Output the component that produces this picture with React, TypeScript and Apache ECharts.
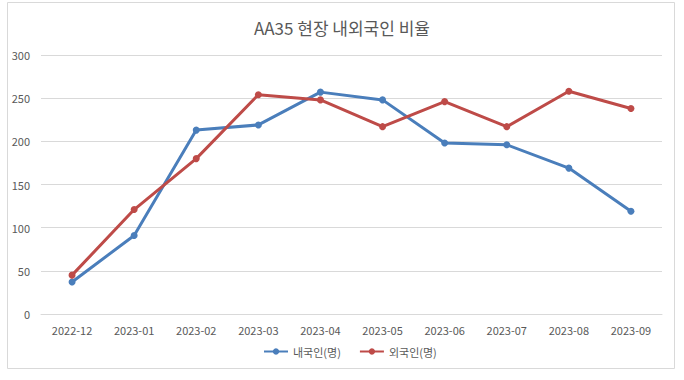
import React, { useEffect, useRef } from "react";
import * as echarts from "echarts";

const categories = ["2022-12", "2023-01", "2023-02", "2023-03", "2023-04", "2023-05", "2023-06", "2023-07", "2023-08", "2023-09"];
const domestic = [37, 91, 213, 219, 257, 248, 198, 196, 169, 119];
const foreign = [45, 121, 180, 254, 248, 217, 246, 217, 258, 238];
const seriesNames = ["내국인(명)", "외국인(명)"];
const titleText = "AA35 현장 내외국인 비율";

const FONT = "'Noto Sans CJK KR', 'Noto Sans', sans-serif";

export default function App() {
  const ref = useRef<HTMLDivElement>(null);
  useEffect(() => {
    if (!ref.current) return;
    const chart = echarts.init(ref.current, null, { renderer: "svg" });
    chart.setOption({
      animation: false,
      backgroundColor: "#ffffff",
      textStyle: { fontFamily: FONT },
      title: {
        text: titleText,
        left: "center",
        top: 14,
        textStyle: { fontSize: 17, fontWeight: "normal", color: "#595959", fontFamily: FONT },
      },
      graphic: [
        {
          type: "rect",
          shape: { x: 7.5, y: 2.5, width: 667, height: 366 },
          style: { fill: "none", stroke: "#d9d9d9", lineWidth: 1 },
          silent: true,
        },
      ],
      legend: {
        bottom: 18,
        left: 258,
        itemWidth: 24,
        itemHeight: 8,
        itemGap: 18,
        textStyle: { fontSize: 11, color: "#595959", fontFamily: FONT },
        data: seriesNames,
      },
      grid: { left: 41, right: 22, top: 55, bottom: 66 },
      xAxis: {
        type: "category",
        data: categories,
        boundaryGap: true,
        axisLine: { lineStyle: { color: "#d9d9d9" } },
        axisTick: { show: false },
        axisLabel: { fontSize: 11, color: "#595959", margin: 10, fontFamily: FONT },
      },
      yAxis: {
        type: "value",
        min: 0,
        max: 300,
        interval: 50,
        axisLine: { show: false },
        axisTick: { show: false },
        axisLabel: { fontSize: 11, color: "#595959", margin: 11, fontFamily: FONT },
        splitLine: { lineStyle: { color: "#d9d9d9" } },
      },
      series: [
        {
          name: seriesNames[0],
          type: "line",
          data: domestic,
          symbol: "circle",
          symbolSize: 7,
          lineStyle: { width: 3, color: "#4a7ebb" },
          itemStyle: { color: "#4a7ebb" },
        },
        {
          name: seriesNames[1],
          type: "line",
          data: foreign,
          symbol: "circle",
          symbolSize: 7,
          lineStyle: { width: 3, color: "#be4b48" },
          itemStyle: { color: "#be4b48" },
        },
      ],
    });
    return () => chart.dispose();
  }, []);
  return (
    <div
      ref={ref}
      style={{ position: "absolute", left: 0, top: 0, width: 684, height: 380 }}
    />
  );
}
